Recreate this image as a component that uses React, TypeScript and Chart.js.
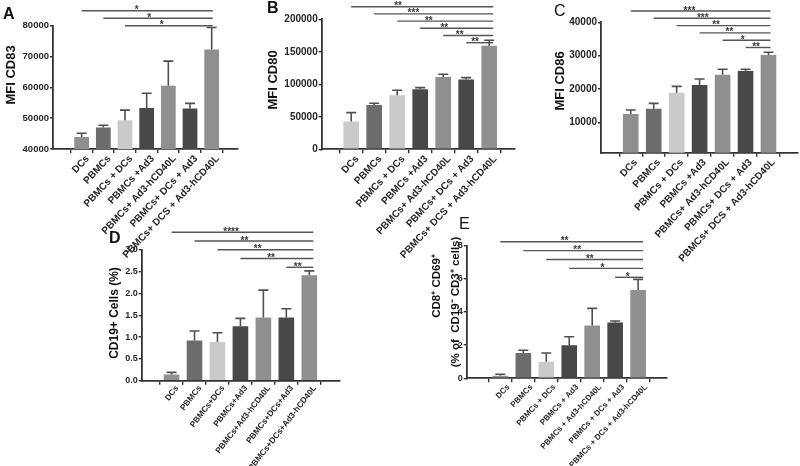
import React, { useEffect, useRef } from "react";
import { Chart, registerables } from "chart.js";

Chart.register(...registerables);

const FONT = '"Liberation Sans", Arial, Helvetica, sans-serif';

// ---------- data ----------
const labelsABC = [
  "DCs",
  "PBMCs",
  "PBMCs + DCs",
  "PBMCs +Ad3",
  "PBMCs+ Ad3-hCD40L",
  "PBMCs+ DCs + Ad3",
  "PBMCs+ DCS + Ad3-hCD40L",
];
const labelsD = [
  "DCs",
  "PBMCs",
  "PBMCs+DCs",
  "PBMCs+Ad3",
  "PBMCs+Ad3-hCD40L",
  "PBMCs+DCs+Ad3",
  "PBMCs+DCs+Ad3-hCD40L",
];
const labelsE = [
  "DCs",
  "PBMCs",
  "PBMCs + DCs",
  "PBMCs + Ad3",
  "PBMCs + Ad3-hCD40L",
  "PBMCs + DCs + Ad3",
  "PBMCs + DCs + Ad3-hCD40L",
];

// A: MFI CD83
const cd83Mean = [43900, 47000, 49300, 53300, 60500, 53100, 72300];
const cd83Sd = [1200, 700, 3300, 4800, 8000, 1700, 7100];
const cd83Ticks = [40000, 50000, 60000, 70000, 80000];
const cd83SigFrom = [0, 1, 2];
const cd83Stars = ["*", "*", "*"];

// B: MFI CD80
const cd80Mean = [42600, 68200, 83100, 92300, 111300, 107200, 159500];
const cd80Sd = [13800, 2600, 7700, 2600, 4100, 3100, 8200];
const cd80Ticks = [0, 50000, 100000, 150000, 200000];
const cd80SigFrom = [0, 1, 2, 3, 4, 5];
const cd80Stars = ["**", "***", "**", "**", "**", "**"];

// C: MFI CD86
const cd86Mean = [12500, 14100, 18900, 21200, 24300, 25400, 30200];
const cd86Sd = [1200, 1600, 1900, 1800, 1600, 500, 800];
const cd86Ticks = [10000, 20000, 30000, 40000];
const cd86SigFrom = [0, 1, 2, 3, 4, 5];
const cd86Stars = ["***", "***", "**", "**", "*", "**"];

// D: CD19+ cells (%)
const cd19Mean = [0.14, 0.92, 0.89, 1.25, 1.45, 1.45, 2.42];
const cd19Sd = [0.05, 0.22, 0.21, 0.18, 0.63, 0.2, 0.1];
const cd19Ticks = [0, 0.5, 1.0, 1.5, 2.0, 2.5, 3.0];
const cd19SigFrom = [0, 1, 2, 3, 5];
const cd19Stars = ["****", "**", "**", "**", "**"];

// E: CD8+ CD69+ (% of CD19- CD3+ cells)
const cd69Mean = [0.16, 1.53, 1.0, 1.99, 3.18, 3.36, 5.33];
const cd69Sd = [0.08, 0.16, 0.53, 0.52, 1.04, 0.1, 0.64];
const cd69Ticks = [0, 2, 4, 6, 8];
const cd69SigFrom = [0, 1, 2, 3, 5];
const cd69Stars = ["**", "**", "**", "*", "*"];

// ---------- styles ----------
const MED = "#8f8f8f";
const PBM = "#6c6c6c";
const LIGHT = "#cacaca";
const DARK = "#484848";
const AXIS = "#333333";

type Title = { text: string; x: number; y: number; size: number };
type Panel = {
  labels: string[];
  mean: number[];
  sd: number[];
  ticks: number[];
  sigFrom: number[];
  stars: string[];
  colors: string[];
  plotLeft: number;
  plotRight: number;
  plotTop: number;
  plotBottom: number;
  xMin: number;
  xMax: number;
  yMin: number;
  yMax: number;
  tickFont: number;
  xFont: number;
  xRot: number;
  xDx: number;
  xDy: number;
  fmt: (v: number) => string;
  titles: Title[];
  sigY0: number;
  sigGap: number;
  sigEndExt: number;
  starFrac: number;
};

const stdColors = [MED, PBM, LIGHT, DARK, MED, DARK, MED];

const panels: Panel[] = [
  {
    labels: labelsABC, mean: cd83Mean, sd: cd83Sd, ticks: cd83Ticks,
    sigFrom: cd83SigFrom, stars: cd83Stars, colors: stdColors,
    plotLeft: 53, plotRight: 238, plotTop: 25.7, plotBottom: 149,
    xMin: -0.712, xMax: 6.605, yMin: 40000, yMax: 80000,
    tickFont: 9.5, xFont: 10, xRot: 47, xDx: 6, xDy: 8, fmt: (v) => String(v),
    titles: [{ text: "MFI CD83", x: 11.5, y: 75, size: 13 }],
    sigY0: 10.7, sigGap: 7.5, sigEndExt: 1, starFrac: 0.42,
  },
  {
    labels: labelsABC, mean: cd80Mean, sd: cd80Sd, ticks: cd80Ticks,
    sigFrom: cd80SigFrom, stars: cd80Stars,
    colors: [LIGHT, PBM, LIGHT, DARK, MED, DARK, MED],
    plotLeft: 321.7, plotRight: 515, plotTop: 19.3, plotBottom: 149.3,
    xMin: -0.682, xMax: 6.522, yMin: 0, yMax: 200000,
    tickFont: 10, xFont: 10, xRot: 47, xDx: 6, xDy: 8, fmt: (v) => String(v),
    titles: [{ text: "MFI CD80", x: 273, y: 80, size: 13 }],
    sigY0: 6.7, sigGap: 7.2, sigEndExt: 4, starFrac: 0.33,
  },
  {
    labels: labelsABC, mean: cd86Mean, sd: cd86Sd, ticks: cd86Ticks,
    sigFrom: cd86SigFrom, stars: cd86Stars, colors: stdColors,
    plotLeft: 601, plotRight: 798, plotTop: 22.3, plotBottom: 152.7,
    xMin: -0.683, xMax: 6.672, yMin: 900, yMax: 40000,
    tickFont: 10, xFont: 10, xRot: 47, xDx: 5, xDy: 8, fmt: (v) => String(v),
    titles: [{ text: "MFI CD86", x: 560, y: 81, size: 13 }],
    sigY0: 11, sigGap: 7.3, sigEndExt: 2, starFrac: 0.42,
  },
  {
    labels: labelsD, mean: cd19Mean, sd: cd19Sd, ticks: cd19Ticks,
    sigFrom: cd19SigFrom, stars: cd19Stars, colors: stdColors,
    plotLeft: 141.7, plotRight: 340, plotTop: 250, plotBottom: 380.7,
    xMin: -0.683, xMax: 6.72, yMin: 0, yMax: 3,
    tickFont: 9, xFont: 8.3, xRot: 52, xDx: 5.5, xDy: 6, fmt: (v) => v.toFixed(1),
    titles: [{ text: "CD19+ Cells (%)", x: 114.5, y: 313, size: 12 }],
    sigY0: 232.3, sigGap: 8.75, sigEndExt: 4, starFrac: 0.42,
  },
  {
    labels: labelsE, mean: cd69Mean, sd: cd69Sd, ticks: cd69Ticks,
    sigFrom: cd69SigFrom, stars: cd69Stars, colors: stdColors,
    plotLeft: 466.7, plotRight: 666.7, plotTop: 245.7, plotBottom: 378.3,
    xMin: -0.844, xMax: 6.623, yMin: 0, yMax: 8,
    tickFont: 9, xFont: 8, xRot: 47, xDx: 8, xDy: 7.5, fmt: (v) => String(v),
    titles: [
      { text: "CD8\u207A CD69\u207A", x: 437, y: 286, size: 11.5 },
      { text: "(% of  CD19\u207B CD3\u207A cells)", x: 455.5, y: 302, size: 11.5 },
    ],
    sigY0: 241.7, sigGap: 8.9, sigEndExt: 5, starFrac: 0.45,
  },
];

const W = 800;
const H = 466;
const Y_AXIS_W = 40;

function PanelChart({ p }: { p: Panel }) {
  const ref = useRef<HTMLCanvasElement>(null);
  useEffect(() => {
    if (!ref.current) return;
    const overlay = {
      id: "overlay",
      afterDatasetsDraw(chart: any) {
        const { ctx } = chart;
        const x = chart.scales.x;
        const y = chart.scales.y;
        ctx.save();
        ctx.strokeStyle = "#505050";
        ctx.lineWidth = 1.6;
        p.mean.forEach((m, i) => {
          const px = x.getPixelForValue(i);
          const y0 = y.getPixelForValue(m);
          const y1 = y.getPixelForValue(m + p.sd[i]);
          ctx.beginPath();
          ctx.moveTo(px, y0);
          ctx.lineTo(px, y1);
          ctx.moveTo(px - 5, y1);
          ctx.lineTo(px + 5, y1);
          ctx.stroke();
        });
        ctx.restore();
      },
      afterDraw(chart: any) {
        const { ctx } = chart;
        const x = chart.scales.x;
        const last = p.labels.length - 1;
        ctx.save();
        // rotated category labels
        ctx.fillStyle = "#262626";
        ctx.font = `bold ${p.xFont}px ${FONT}`;
        ctx.textAlign = "right";
        ctx.textBaseline = "middle";
        p.labels.forEach((lab, i) => {
          const px = x.getPixelForValue(i);
          ctx.save();
          ctx.translate(px + p.xDx, chart.chartArea.bottom + p.xDy);
          ctx.rotate((-p.xRot * Math.PI) / 180);
          ctx.fillText(lab, 0, 0);
          ctx.restore();
        });
        // significance brackets
        ctx.strokeStyle = "#555555";
        ctx.lineWidth = 1.4;
        ctx.fillStyle = "#3a3a3a";
        ctx.font = `bold 10px ${FONT}`;
        ctx.textAlign = "center";
        ctx.textBaseline = "alphabetic";
        p.sigFrom.forEach((f, k) => {
          const xa = x.getPixelForValue(f);
          const xb = x.getPixelForValue(last) + p.sigEndExt;
          const yy = p.sigY0 + k * p.sigGap;
          ctx.beginPath();
          ctx.moveTo(xa, yy);
          ctx.lineTo(xb, yy);
          ctx.stroke();
          ctx.fillText(p.stars[k], xa + (xb - xa) * p.starFrac, yy + 2.5);
        });
        // y-axis titles
        ctx.fillStyle = "#111111";
        p.titles.forEach((t) => {
          ctx.save();
          ctx.translate(t.x, t.y);
          ctx.rotate(-Math.PI / 2);
          ctx.font = `bold ${t.size}px ${FONT}`;
          ctx.textAlign = "center";
          ctx.textBaseline = "middle";
          ctx.fillText(t.text, 0, 0);
          ctx.restore();
        });
        ctx.restore();
      },
    };

    const chart = new Chart(ref.current, {
      type: "bar",
      data: {
        datasets: [
          {
            data: p.mean.map((v, i) => ({ x: i, y: v })),
            backgroundColor: p.colors,
            borderWidth: 0,
            barPercentage: 0.68,
            categoryPercentage: 1,
          } as any,
        ],
      },
      options: {
        responsive: false,
        animation: false,
        devicePixelRatio: 1,
        events: [],
        layout: {
          autoPadding: false,
          padding: {
            left: p.plotLeft - Y_AXIS_W,
            right: W - p.plotRight,
            top: p.plotTop,
            bottom: 0,
          },
        },
        plugins: {
          legend: { display: false },
          tooltip: { enabled: false },
          title: { display: false },
        },
        scales: {
          x: {
            type: "linear",
            min: p.xMin,
            max: p.xMax,
            afterBuildTicks: (ax: any) => {
              ax.ticks = p.labels.map((_, i) => ({ value: i }));
            },
            afterFit: (ax: any) => {
              ax.height = H - p.plotBottom;
            },
            ticks: { display: false, autoSkip: false },
            grid: {
              drawOnChartArea: false,
              drawTicks: true,
              tickLength: 4,
              color: AXIS,
              lineWidth: 1.4,
            },
            border: { display: true, color: AXIS, width: 1.8 },
          },
          y: {
            type: "linear",
            min: p.yMin,
            max: p.yMax,
            afterBuildTicks: (ax: any) => {
              ax.ticks = p.ticks.map((v) => ({ value: v }));
            },
            afterFit: (ax: any) => {
              ax.width = Y_AXIS_W;
            },
            ticks: {
              padding: 1,
              color: "#262626",
              font: { family: FONT, size: p.tickFont, weight: "bold" },
              callback: (v: any) => p.fmt(Number(v)),
            },
            grid: {
              drawOnChartArea: false,
              drawTicks: true,
              tickLength: 3,
              color: AXIS,
              lineWidth: 1.4,
            },
            border: { display: true, color: AXIS, width: 1.8 },
          },
        },
      } as any,
      plugins: [overlay],
    });
    return () => chart.destroy();
  }, [p]);
  return (
    <canvas
      ref={ref}
      width={W}
      height={H}
      style={{ position: "absolute", left: 0, top: 0, width: W, height: H }}
    />
  );
}

const letters = [
  { t: "A", x: 3, y: 6, bold: true },
  { t: "B", x: 267, y: 0, bold: true },
  { t: "C", x: 554, y: 3, bold: false },
  { t: "D", x: 109, y: 230, bold: true },
  { t: "E", x: 459, y: 216, bold: false },
];

export default function App() {
  return (
    <div
      style={{
        position: "absolute",
        left: 0,
        top: 0,
        width: W,
        height: H,
        background: "#ffffff",
        overflow: "hidden",
      }}
    >
      {panels.map((p, i) => (
        <PanelChart key={i} p={p} />
      ))}
      {letters.map((l) => (
        <div
          key={l.t}
          style={{
            position: "absolute",
            left: l.x,
            top: l.y,
            fontFamily: FONT,
            fontSize: 16,
            lineHeight: 1,
            fontWeight: l.bold ? 700 : 400,
            color: "#111",
          }}
        >
          {l.t}
        </div>
      ))}
    </div>
  );
}
